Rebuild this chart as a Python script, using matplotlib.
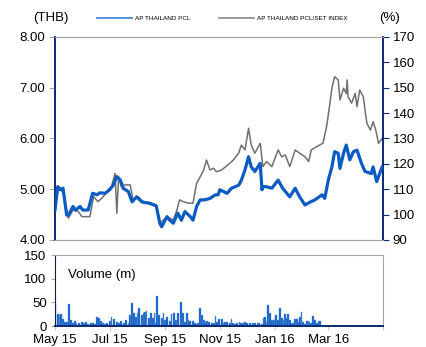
import numpy as np
import pandas as pd
import matplotlib
matplotlib.use('Agg')
import matplotlib.pyplot as plt
from matplotlib.lines import Line2D

plt.rcParams['font.family'] = ['Liberation Sans', 'DejaVu Sans']

start = pd.Timestamp('2015-05-01')

# AP THAILAND PCL share price (THB), day offset from 1 May 2015
price_days = [0, 3, 6, 9, 13, 15, 20, 23, 28, 31, 37, 42, 47, 50, 56, 61, 65, 69, 73, 76,
              82, 86, 91, 97, 106, 113, 117, 119, 125, 128, 132, 137, 141, 145, 151, 154,
              158, 162, 167, 173, 179, 182, 184, 192, 197, 205, 208, 212, 216, 219, 223,
              229, 231, 232, 236, 242, 249, 254, 262, 268, 273, 279, 285, 290, 298, 301,
              305, 309, 312, 316, 318, 322, 325, 329, 333, 337, 342, 346, 353, 355, 359, 365]
price = [4.59, 5.05, 4.99, 5.02, 4.49, 4.49, 4.66, 4.59, 4.66, 4.59, 4.59, 4.92, 4.89, 4.93,
         4.92, 4.99, 5.08, 5.25, 5.18, 5.02, 4.95, 4.75, 4.85, 4.75, 4.72, 4.67, 4.33, 4.26,
         4.46, 4.39, 4.33, 4.53, 4.39, 4.56, 4.46, 4.39, 4.66, 4.79, 4.79, 4.82, 4.89, 4.89,
         4.99, 4.92, 5.02, 5.08, 5.18, 5.38, 5.64, 5.44, 5.35, 5.51, 4.99, 5.05, 5.05, 5.02,
         5.18, 5.02, 4.85, 5.02, 4.85, 4.69, 4.75, 4.79, 4.89, 4.82, 5.18, 5.44, 5.74, 5.71,
         5.41, 5.71, 5.87, 5.58, 5.74, 5.77, 5.51, 5.35, 5.31, 5.44, 5.15, 5.44]

# AP THAILAND PCL relative to SET index (%)
rel_days = [0, 3, 5, 9, 15, 20, 26, 30, 39, 43, 48, 54, 59, 63, 67, 69, 71, 74, 78, 84, 87,
            93, 98, 106, 113, 117, 125, 132, 136, 139, 143, 149, 154, 158, 162, 166, 169,
            173, 177, 180, 186, 193, 199, 205, 208, 212, 216, 219, 223, 229, 232, 236, 242,
            249, 253, 257, 262, 268, 273, 279, 283, 286, 292, 299, 303, 305, 309, 312, 316,
            318, 322, 325, 326, 327, 331, 335, 337, 340, 344, 348, 352, 355, 358, 361, 365]
rel = [101.8, 109.0, 111.0, 108.4, 98.6, 101.8, 101.2, 99.2, 99.2, 107.1, 105.1, 107.1,
       109.7, 111.0, 116.3, 100.5, 114.9, 111.0, 111.7, 111.7, 105.8, 107.1, 105.1, 104.7,
       103.8, 96.6, 99.2, 97.9, 101.8, 105.8, 105.1, 104.5, 104.5, 112.3, 114.9, 117.6,
       121.5, 117.6, 118.3, 116.9, 117.6, 119.6, 121.5, 124.2, 127.4, 125.5, 134.0, 127.4,
       124.2, 128.1, 118.9, 120.9, 118.9, 125.5, 122.8, 123.5, 118.9, 125.5, 124.2, 122.8,
       120.9, 125.5, 126.8, 128.1, 134.6, 139.3, 149.8, 154.4, 153.1, 145.2, 149.8, 147.8,
       153.1, 146.5, 143.9, 147.8, 142.5, 149.1, 146.5, 136.0, 133.3, 136.6, 133.3, 128.1,
       130.0]

# daily volume (m shares)
vol_days = [0, 3, 5, 7, 9, 11, 13, 16, 18, 20, 22, 24, 27, 30, 32, 35, 37, 40, 42, 45, 47,
            49, 51, 54, 56, 58, 61, 63, 66, 69, 71, 74, 77, 79, 82, 84, 86, 88, 90, 92, 94,
            97, 99, 100, 102, 105, 107, 109, 111, 113, 114, 116, 119, 121, 123, 125, 128, 130,
            133, 135, 137, 141, 143, 145, 147, 149, 151, 154, 156, 158, 160, 162, 164, 166,
            167, 170, 172, 175, 177, 179, 181, 183, 186, 188, 190, 192, 195, 197, 199, 201,
            203, 206, 208, 210, 212, 214, 217, 218, 221, 223, 226, 228, 231, 233, 234, 236,
            238, 240, 242, 244, 246, 247, 249, 251, 253, 255, 257, 258, 260, 262, 264, 266,
            268, 270, 271, 273, 275, 277, 279, 281, 283, 284, 286, 288, 290, 292, 294, 296]
volume = [49, 25, 23, 25, 14, 9, 9, 46, 13, 7, 11, 7, 6, 9, 6, 9, 4, 7, 6, 4, 20, 16, 11, 6,
          4, 7, 11, 20, 14, 9, 6, 11, 6, 13, 7, 23, 48, 27, 20, 28, 39, 23, 28, 30, 32, 16,
          28, 16, 28, 6, 63, 23, 16, 27, 13, 20, 11, 25, 27, 13, 28, 51, 28, 9, 27, 13, 11,
          11, 7, 4, 6, 37, 23, 13, 9, 11, 9, 6, 7, 21, 9, 14, 14, 6, 9, 9, 6, 14, 7, 4, 7, 8,
          7, 6, 9, 7, 4, 6, 7, 7, 7, 7, 4, 16, 20, 9, 44, 27, 13, 13, 21, 23, 13, 37, 16, 13,
          25, 16, 25, 13, 6, 6, 14, 14, 9, 20, 30, 9, 4, 11, 11, 9, 7, 21, 13, 6, 11, 11]

month_ticks = ['2015-05-01', '2015-07-01', '2015-09-01', '2015-11-01', '2016-01-01', '2016-03-01', '2016-05-01']
month_labels = ['May 15', 'Jul 15', 'Sep 15', 'Nov 15', 'Jan 16', 'Mar 16', '']

navy = '#0a2a6e'
grey_spine = '#a6a6a6'
blue = '#0b5bc4'
grey = '#707070'

to_dates = lambda d: start + pd.to_timedelta(d, unit='D')
xmin, xmax = pd.Timestamp('2015-05-01'), pd.Timestamp('2016-05-01')

fig = plt.figure(figsize=(4.27, 3.47), dpi=100)

ax = fig.add_axes([0.1288, 0.3084, 0.7681, 0.585])
ax2 = ax.twinx()
ax2.plot(to_dates(rel_days), rel, color=grey, lw=1.1, zorder=2)
ax.set_zorder(ax2.get_zorder() + 1)
ax.patch.set_visible(False)
ax.plot(to_dates(price_days), price, color=blue, lw=2.3, zorder=3)

ax.set_xlim(xmin, xmax)
ax.set_ylim(4, 8)
ax2.set_ylim(90, 170)
ax.set_yticks([4, 5, 6, 7, 8])
ax.set_yticklabels(['%.2f' % v for v in [4, 5, 6, 7, 8]], fontsize=9.5)
ax2.set_yticks(range(90, 171, 10))
ax2.set_yticklabels([str(v) for v in range(90, 171, 10)], fontsize=9.5)
ax.set_xticks([])
ax.tick_params(axis='y', length=4, width=0.8, color=grey_spine, pad=3)
ax2.tick_params(axis='y', length=4, width=0.8, color=navy, pad=3)

for a in (ax, ax2):
    a.spines['top'].set_color(grey_spine)
    a.spines['bottom'].set_color(grey_spine)
    a.spines['left'].set_color(navy)
    a.spines['right'].set_color(navy)
    a.spines['left'].set_linewidth(1.2)
    a.spines['right'].set_linewidth(1.2)

fig.text(0.118, 0.948, '(THB)', fontsize=9.5, ha='center', va='center')
fig.text(0.913, 0.948, '(%)', fontsize=9.5, ha='center', va='center')

handles = [Line2D([], [], color='#3b7fd6', lw=1.2), Line2D([], [], color='#8a8a8a', lw=1.2)]
fig.legend(handles, ['AP THAILAND PCL', 'AP THAILAND PCL/SET INDEX'], loc='center',
           bbox_to_anchor=(0.52, 0.948), ncol=2, frameon=False, fontsize=4.6,
           handlelength=5.5, handletextpad=0.4, columnspacing=4.5)

# volume panel
axv = fig.add_axes([0.1288, 0.0605, 0.7681, 0.2046])
axv.bar(to_dates(vol_days), volume, width=2.0, color=blue, edgecolor='#6a9be0', linewidth=0.3)
axv.set_xlim(xmin, xmax)
axv.set_ylim(0, 150)
axv.set_yticks([0, 50, 100, 150])
axv.set_yticklabels(['0', '50', '100', '150'], fontsize=9.5)
axv.set_xticks(pd.to_datetime(month_ticks))
axv.set_xticklabels(month_labels, fontsize=9.5)
axv.tick_params(axis='x', length=3, width=0.8, color='#c8c8e6', pad=3)
axv.tick_params(axis='y', length=3, width=0.8, color=grey_spine, pad=3)
axv.spines['top'].set_color(grey_spine)
axv.spines['right'].set_color(grey_spine)
axv.spines['left'].set_color('#1a1a3a')
axv.spines['bottom'].set_color(navy)
axv.spines['bottom'].set_linewidth(1.4)
axv.text(0.04, 0.72, 'Volume (m)', transform=axv.transAxes, fontsize=9.5, va='center')

fig.savefig('out.png', dpi=100)
